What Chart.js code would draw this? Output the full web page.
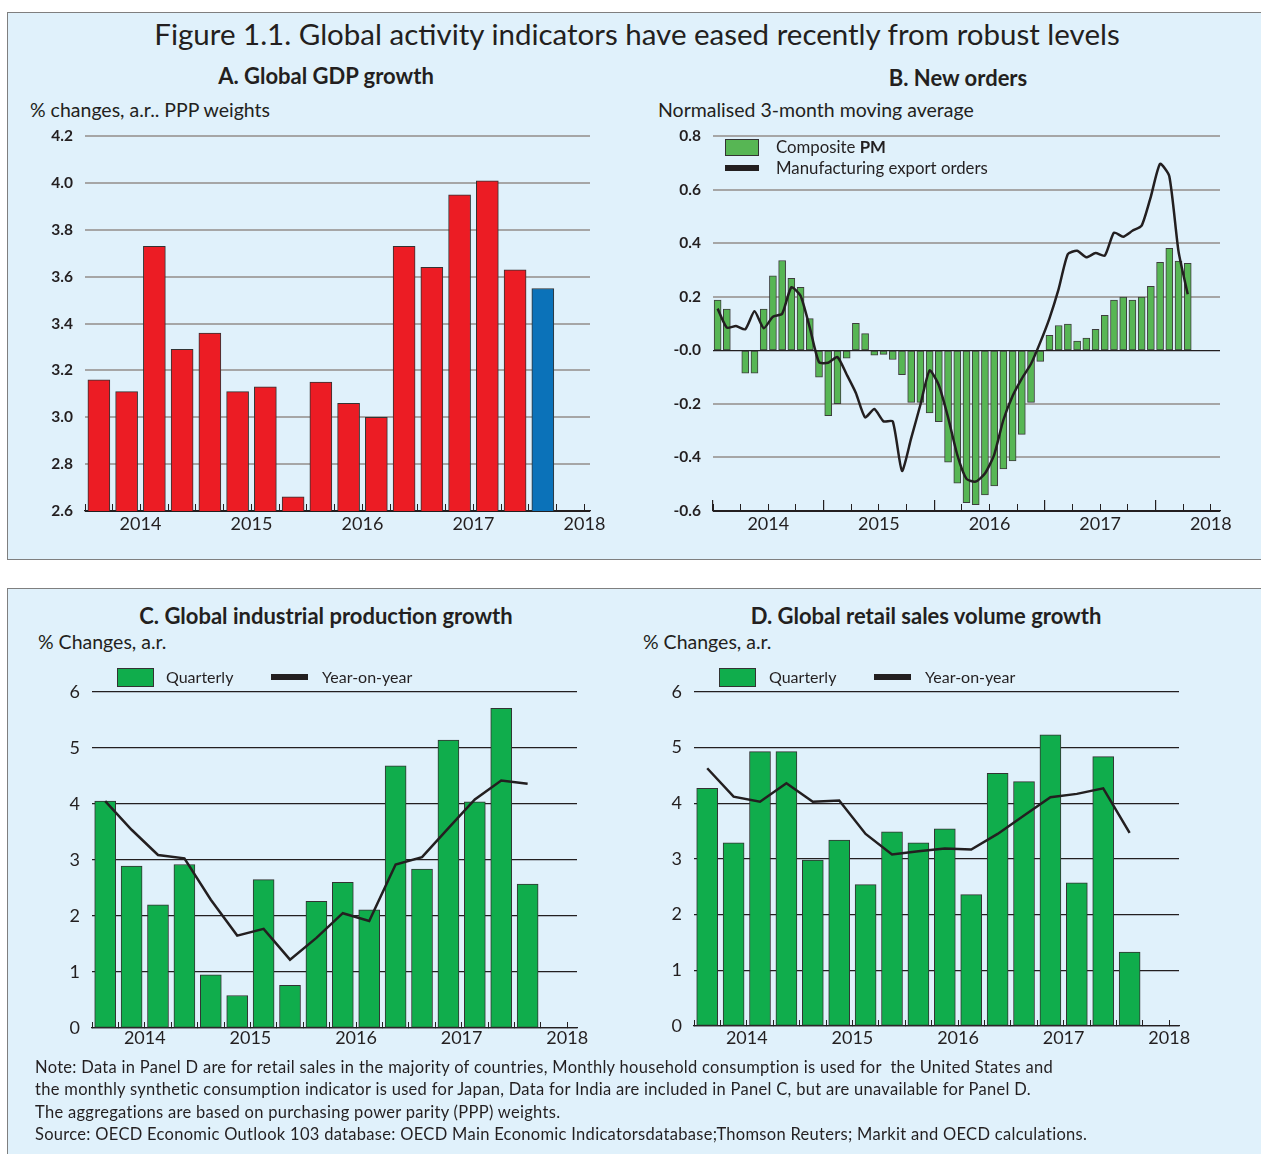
<!DOCTYPE html>
<html>
<head>
<meta charset="utf-8">
<script src="https://cdn.jsdelivr.net/npm/chart.js@4.4.1/dist/chart.umd.min.js"></script>
<style>
  body { margin: 0; width: 1261px; height: 1154px; background: #fff; position: relative; overflow: hidden;
         font-family: Lato, "Noto Sans", sans-serif; color: #231f20; }
  .box { position: absolute; left: 7px; width: 1270px; background: #e0f1fb; border: 1px solid #7f7f7f; }
  .t { position: absolute; white-space: nowrap; }
  .ttl { position: absolute; width: 700px; text-align: center; font-weight: bold; font-size: 22px; line-height: 26px; }
  .sub { font-size: 19.5px; line-height: 22px; }
  .leg { font-size: 16px; line-height: 20px; }
  .note { font-size: 16.5px; line-height: 22.4px; letter-spacing: 0.3px; }
  canvas { position: absolute; }
</style>
</head>
<body>
<div class="box" style="top:12px;height:546px"></div>
<div class="box" style="top:588px;height:600px"></div>

<div class="t" style="left:0;width:1274px;text-align:center;top:16px;font-size:29.5px;line-height:36px">Figure 1.1. Global activity indicators have eased recently from robust levels</div>

<div class="ttl" style="left:-24px;top:63px">A. Global GDP growth</div>
<div class="ttl" style="left:608px;top:65px">B. New orders</div>
<div class="ttl" style="left:-24px;top:603px">C. Global industrial production growth</div>
<div class="ttl" style="left:576px;top:603px">D. Global retail sales volume growth</div>

<div class="t sub" style="left:30px;top:99px">% changes, a.r.. PPP weights</div>
<div class="t sub" style="left:658px;top:99px">Normalised 3-month moving average</div>
<div class="t sub" style="left:38px;top:631px">% Changes, a.r.</div>
<div class="t sub" style="left:643px;top:631px">% Changes, a.r.</div>

<canvas id="chartA" width="630" height="440" style="left:0;top:115px"></canvas>
<canvas id="chartB" width="631" height="440" style="left:630px;top:115px"></canvas>
<canvas id="chartC" width="630" height="420" style="left:0;top:660px"></canvas>
<canvas id="chartD" width="631" height="420" style="left:630px;top:660px"></canvas>

<!-- legends -->
<div class="t" style="left:725px;top:139px;width:32px;height:15px;background:#57b654;border:1px solid #333"></div>
<div class="t leg" style="left:776px;top:137px;font-size:16.8px">Composite <b>PM</b></div>
<div class="t" style="left:725px;top:165px;width:34px;height:6px;background:#231f20"></div>
<div class="t leg" style="left:776px;top:158px;font-size:16.8px">Manufacturing export orders</div>

<div class="t" style="left:117px;top:668px;width:35px;height:17px;background:#10ad4c;border:1px solid #333"></div>
<div class="t leg" style="left:166px;top:667px">Quarterly</div>
<div class="t" style="left:271px;top:674px;width:37px;height:6px;background:#231f20"></div>
<div class="t leg" style="left:322px;top:667px">Year-on-year</div>

<div class="t" style="left:719px;top:668px;width:35px;height:17px;background:#10ad4c;border:1px solid #333"></div>
<div class="t leg" style="left:769px;top:667px">Quarterly</div>
<div class="t" style="left:874px;top:674px;width:37px;height:6px;background:#231f20"></div>
<div class="t leg" style="left:925px;top:667px">Year-on-year</div>

<div class="t note" style="left:35px;top:1056px">Note: Data in Panel D are for retail sales in the majority of countries, Monthly household consumption is used for&nbsp; the United States and<br>the monthly synthetic consumption indicator is used for Japan, Data for India are included in Panel C, but are unavailable for Panel D.<br>The aggregations are based on purchasing power parity (PPP) weights.<br>Source: OECD Economic Outlook 103 database: OECD Main Economic Indicatorsdatabase;Thomson Reuters; Markit and OECD calculations.</div>

<script>
// 분기 데이터: 2014Q1 ~ 2018Q1
const years = ['2014', '2015', '2016', '2017', '2018'];

// A. 세계 GDP 성장률 (마지막 값은 전망치, 파란색)
const gdpGrowth = [3.16, 3.11, 3.73, 3.29, 3.36, 3.11, 3.13, 2.66, 3.15, 3.06, 3.00, 3.73, 3.64, 3.95, 4.01, 3.63, 3.55];
const gdpColors = gdpGrowth.map((v, i) => i === gdpGrowth.length - 1 ? '#0b72b9' : '#ec1c24');
const gdpTicks = [2.6, 2.8, 3.0, 3.2, 3.4, 3.6, 3.8, 4.0, 4.2];

// B. 신규 주문 (월별, 2014.01 ~ 2018.04)
const compositePmi = [0.188, 0.154, null, -0.085, -0.085, 0.154, 0.279, 0.336, 0.269, 0.236, 0.119, -0.100,
  -0.244, -0.199, -0.029, 0.101, 0.063, -0.018, -0.015, -0.034, -0.091, -0.194, -0.194, -0.234,
  -0.266, -0.418, -0.496, -0.569, -0.576, -0.540, -0.506, -0.443, -0.413, -0.314, -0.194, -0.041,
  0.056, 0.093, 0.098, 0.035, 0.046, 0.079, 0.131, 0.188, 0.199, 0.188, 0.199, 0.239,
  0.329, 0.381, 0.334, 0.325];
const exportOrders = [0.156, 0.085, 0.091, 0.079, 0.146, 0.083, 0.126, 0.137, 0.236, 0.204, 0.085, -0.044,
  -0.046, -0.025, -0.090, -0.159, -0.250, -0.219, -0.265, -0.265, -0.450, -0.328, -0.203, -0.075,
  -0.130, -0.250, -0.390, -0.480, -0.490, -0.460, -0.390, -0.260, -0.170, -0.105, -0.050, 0.030,
  0.120, 0.230, 0.360, 0.372, 0.348, 0.364, 0.354, 0.440, 0.425, 0.447, 0.466, 0.575,
  0.697, 0.651, 0.370, 0.210];
const ordersTicks = [-0.6, -0.4, -0.2, 0, 0.2, 0.4, 0.6, 0.8];

// C. 세계 산업생산 증가율
const ipQuarterly = [4.05, 2.89, 2.20, 2.92, 0.95, 0.58, 2.65, 0.76, 2.26, 2.60, 2.11, 4.68, 2.84, 5.14, 4.04, 5.71, 2.57];
const ipYoy = [4.05, 3.54, 3.09, 3.03, 2.29, 1.65, 1.77, 1.22, 1.61, 2.05, 1.91, 2.92, 3.05, 3.57, 4.08, 4.42, 4.36];

// D. 세계 소매판매 증가율
const retailQuarterly = [4.27, 3.29, 4.93, 4.93, 2.98, 3.34, 2.54, 3.49, 3.29, 3.54, 2.36, 4.54, 4.39, 5.23, 2.57, 4.84, 1.33];
const retailYoy = [4.63, 4.12, 4.03, 4.36, 4.03, 4.05, 3.45, 3.08, 3.14, 3.19, 3.17, 3.45, 3.78, 4.11, 4.17, 4.27, 3.47];
const pctTicks = [0, 1, 2, 3, 4, 5, 6];

const quarterTicks = Array.from({ length: 19 }, (_, i) => i);      // 분기 경계
const monthTicks = Array.from({ length: 19 }, (_, i) => i * 3);    // 월별 차트의 분기 경계
const yearStartMonths = [0, 12, 24, 36, 48];                       // 연도 경계 (긴 눈금)

const FONT = 'Lato, "Noto Sans", sans-serif';
const INK = '#231f20';

// 좌표 변환: i번째 막대는 슬롯 가운데
const toXY = (arr) => arr.map((v, i) => ({ x: i + 0.5, y: v }));

// 축 크기 고정 (플롯 영역을 원본과 맞추기)
function xAxis(max, ticks, perYear, height, tickLen, pad) {
  return {
    type: 'linear', min: 0, max: max, offset: false, weight: 1,
    afterBuildTicks: (s) => { s.ticks = ticks.map((v) => ({ value: v })); },
    afterFit: (s) => { s.height = height; },
    ticks: {
      autoSkip: false, maxRotation: 0, padding: pad + tickLen,
      color: INK, font: { family: FONT, size: 18 },
      callback: (v) => {
        const k = (v - perYear / 2) / perYear;
        return Number.isInteger(k) ? years[k] : '';
      },
    },
    grid: { offset: false, drawOnChartArea: false, drawTicks: true, tickLength: -tickLen, color: INK, lineWidth: 1 },
    border: { display: true, color: INK, width: 1.2 },
  };
}

function yAxis(ticks, width, font, gridColor, gridWidth, labelFn) {
  return {
    min: ticks[0], max: ticks[ticks.length - 1],
    afterBuildTicks: (s) => { s.ticks = ticks.map((v) => ({ value: v })); },
    afterFit: (s) => { s.width = width; },
    ticks: { padding: 12, color: INK, font: font, callback: labelFn },
    grid: { drawTicks: false, color: gridColor, lineWidth: gridWidth },
    border: { display: false },
  };
}

const noPlugins = { legend: { display: false }, tooltip: { enabled: false } };

// A
new Chart(document.getElementById('chartA'), {
  type: 'bar',
  data: {
    datasets: [{
      data: toXY(gdpGrowth), backgroundColor: gdpColors, borderColor: '#333', borderWidth: 1,
      borderSkipped: false, barThickness: 22,
    }],
  },
  options: {
    responsive: false, animation: false,
    layout: { padding: { left: 0, right: 40, top: 19, bottom: 0 } },
    plugins: noPlugins,
    scales: {
      x: xAxis(18.2, quarterTicks, 4, 44, 7, 2),
      y: yAxis(gdpTicks, 85, { family: FONT, size: 15.5, weight: 'bold' },
        (c) => (c.tick.value <= 2.6 ? INK : '#a6a6a6'), 2, (v) => v.toFixed(1)),
    },
  },
});

// B
new Chart(document.getElementById('chartB'), {
  type: 'bar',
  data: {
    datasets: [
      {
        type: 'line', data: toXY(exportOrders), borderColor: INK, borderWidth: 2.5,
        pointRadius: 0, tension: 0.2, order: 0,
      },
      {
        data: toXY(compositePmi), backgroundColor: '#57b654', borderColor: '#3d3d3d', borderWidth: 1,
        borderSkipped: false, barThickness: 7, order: 1,
      },
    ],
  },
  options: {
    responsive: false, animation: false,
    layout: { padding: { left: 0, right: 41, top: 19, bottom: 0 } },
    plugins: noPlugins,
    scales: {
      x: xAxis(55, monthTicks, 12, 44, 7, 2),
      // 연도 경계의 긴 눈금
      x2: {
        type: 'linear', position: 'bottom', min: 0, max: 55, offset: false, weight: 0,
        afterBuildTicks: (s) => { s.ticks = yearStartMonths.map((v) => ({ value: v })); },
        afterFit: (s) => { s.height = 0; },
        ticks: { display: false },
        grid: { offset: false, drawOnChartArea: false, drawTicks: true, tickLength: -11, color: INK, lineWidth: 1.2 },
        border: { display: false },
      },
      y: yAxis(ordersTicks, 83, { family: FONT, size: 15.5, weight: 'bold' },
        (c) => (c.tick.value === 0 || c.tick.value <= -0.6 ? INK : '#a6a6a6'),
        (c) => (c.tick.value === 0 ? 1.2 : 2),
        (v) => (v === 0 ? '-0.0' : v.toFixed(1))),
    },
  },
});

// C, D: 분기 막대 + 전년 대비 선 (격자선이 막대 위에 그려짐)
function quarterlyChart(id, bars, line, yWidth, padRight, xHeight, pad) {
  const y = yAxis(pctTicks, yWidth, { family: FONT, size: 18 }, INK, 1.2, (v) => String(v));
  y.z = 1;
  new Chart(document.getElementById(id), {
    type: 'bar',
    data: {
      datasets: [
        {
          type: 'line', data: toXY(line), borderColor: INK, borderWidth: 2.5,
          pointRadius: 0, tension: 0, order: 0,
        },
        {
          data: toXY(bars), backgroundColor: '#10ad4c', borderColor: '#333', borderWidth: 1,
          borderSkipped: false, barThickness: 21, order: 1,
        },
      ],
    },
    options: {
      responsive: false, animation: false,
      layout: { padding: { left: 0, right: padRight, top: 32, bottom: 0 } },
      plugins: noPlugins,
      scales: {
        x: xAxis(18.37, quarterTicks, 4, xHeight, 6, pad),
        y: y,
      },
    },
  });
}
quarterlyChart('chartC', ipQuarterly, ipYoy, 92, 53, 52, -1);
quarterlyChart('chartD', retailQuarterly, retailYoy, 64, 82, 54, 1);
</script>
</body>
</html>
